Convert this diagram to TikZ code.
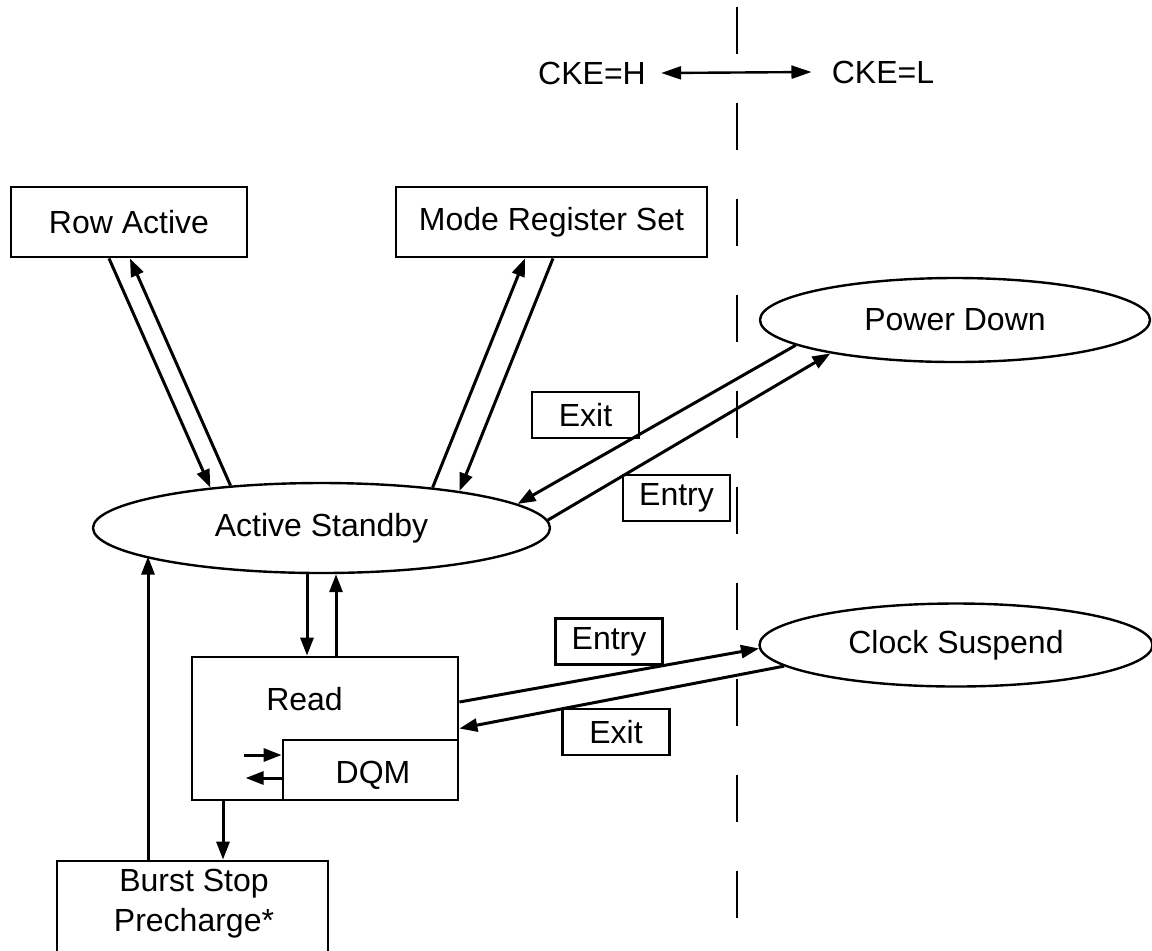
\documentclass[tikz,border=0pt]{standalone}
\usepackage{fontspec}
\setmainfont{Liberation Sans}
\usetikzlibrary{arrows.meta,shapes.geometric}
\begin{document}
\begin{tikzpicture}[x=0.5pt,y=-0.5pt,
  font=\fontsize{16}{20}\selectfont,
  box/.style={draw,line width=1.4pt,rectangle,inner sep=0pt},
  oval/.style={draw,line width=1.2pt,ellipse,inner sep=0pt},
  lbl/.style={draw,line width=1.4pt,rectangle,inner sep=0pt,minimum width=53.5pt,minimum height=23pt},
  arr/.style={line width=1.5pt,-{Triangle[length=9pt,width=6.5pt]}},
  dbl/.style={line width=1.2pt,{Triangle[length=10pt,width=6.5pt]}-{Triangle[length=10pt,width=6.5pt]}},
  sep/.style={line width=1.4pt,dash pattern=on 23.5pt off 24.5pt},
  txt/.style={inner sep=0pt}]
\useasboundingbox (0,0) rectangle (1152,950);

% CKE boundary
\coordinate (dtop) at (737,7);
\coordinate (dbot) at (737,960);
\draw[sep] (dtop) -- (dbot);
\node[txt] (ckeh) at (592,73) {CKE=H};
\node[txt] (ckel) at (883,72) {CKE=L};
\draw[dbl] ([xshift=7.5pt]ckeh.east) -- ([xshift=-10pt]ckel.west);

% states
\node[box,minimum width=118pt,minimum height=35pt] (ra) at (129,222) {Row Active};
\node[box,minimum width=155.5pt,minimum height=35pt] (mrs) at (551.5,222) {Mode Register Set};
\node[oval,minimum width=195pt,minimum height=42pt] (pd) at (955,320) {Power Down};
\node[oval,minimum width=228.5pt,minimum height=45pt] (as) at (321.5,528) {Active Standby};
\node[oval,minimum width=196.5pt,minimum height=41.5pt] (cs) at (956,645) {Clock Suspend};
\node[box,minimum width=133pt,minimum height=71.5pt] (read) at (325,728.5) {};
\node[txt] (readt) at (304.5,699) {Read};
\node[box,minimum width=87.5pt,minimum height=30pt] (dqm) at (370.5,770) {};
\node[txt] (dqmt) at (373,775) {DQM};
\node[box,minimum width=135.5pt,minimum height=50pt] (bs) at (192.5,911) {};
\node[txt,align=center] (bst) at (194,904) {Burst Stop\\Precharge*};

% labels
\node[lbl] (exit1) at (585.5,415) {Exit};
\node[lbl] (entry1) at (676.5,498) {Entry};
\node[lbl] (entry2) at (609,641.5) {Entry};
\node[lbl] (exit2) at (616,732) {Exit};

% connectors
\draw[arr] ([xshift=-10pt]ra.south) -- (as.160.7);
\draw[arr] (as.155.1) -- ([xshift=0.5pt]ra.south);
\draw[arr] (as.20.4) -- ([xshift=-13.25pt]mrs.south);
\draw[arr] ([xshift=0.75pt]mrs.south) -- (as.15.6);
\draw[arr] (pd.189.1) -- (as.7.2);
\draw[arr] (as.2.8) -- (pd.195.3);
\draw[arr] ([yshift=13.25pt]read.east) -- (cs.181);
\draw[arr] (cs.187.2) -- (read.east);
\draw[arr] ([xshift=-9pt]read.north |- as.south) -- ([xshift=-9pt]read.north);
\draw[arr] ([xshift=5.5pt]read.north) -- ([xshift=5.5pt]read.north |- as.south);
\draw[arr] ([xshift=-22.25pt]bs.north) -- ([xshift=-22.25pt]bs.north |- as.189.6);
\draw[arr] ([xshift=-51pt]read.south) -- ([xshift=-51pt]read.south |- bs.north);
\draw[arr] ([xshift=-19pt,yshift=7.5pt]dqm.west) -- ([yshift=7.5pt]dqm.west);
\draw[arr] ([yshift=-4pt]dqm.west) -- ([xshift=-18pt,yshift=-4pt]dqm.west);
\end{tikzpicture}
\end{document}
